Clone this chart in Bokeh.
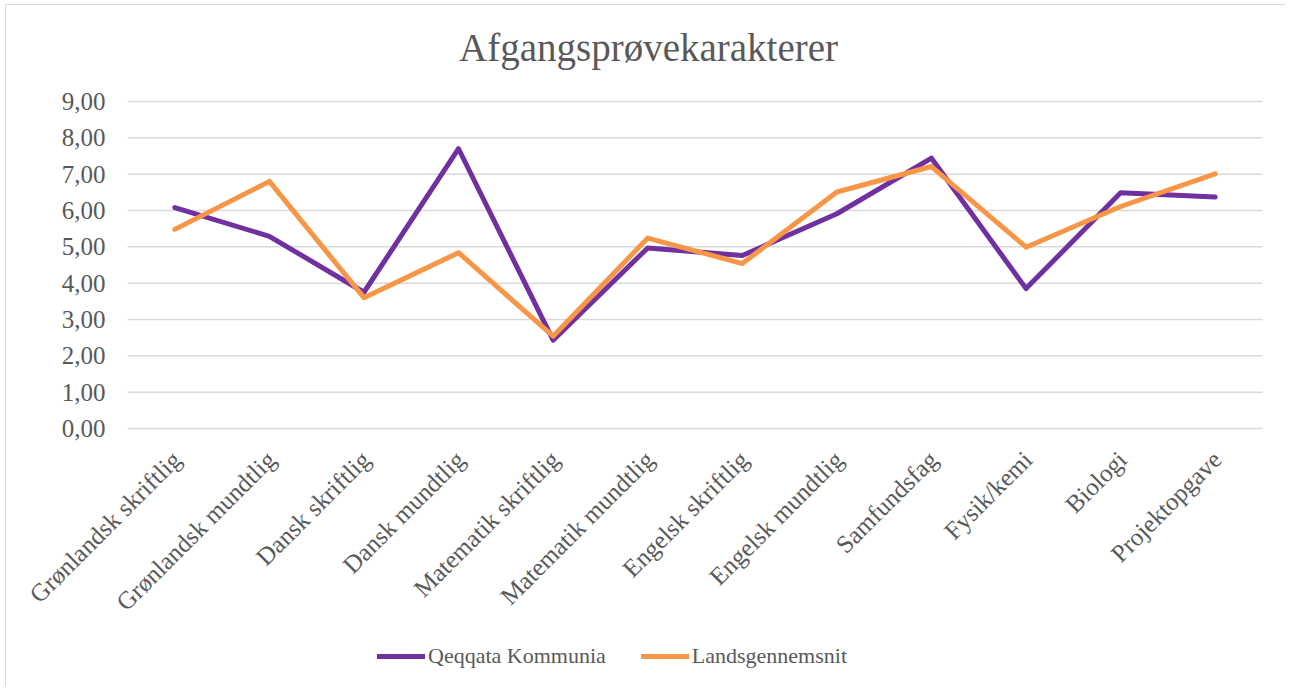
import math
from bokeh.plotting import figure
from bokeh.models import (Range1d, LinearAxis, FixedTicker, CustomJSTickFormatter,
                          Legend, LegendItem, Label, ColumnDataSource)
from bokeh.embed import file_html
from bokeh.resources import INLINE

categories = ["Grønlandsk skriftlig", "Grønlandsk mundtlig", "Dansk skriftlig", "Dansk mundtlig",
              "Matematik skriftlig", "Matematik mundtlig", "Engelsk skriftlig", "Engelsk mundtlig",
              "Samfundsfag", "Fysik/kemi", "Biologi", "Projektopgave"]
qeqqata = [6.08, 5.29, 3.75, 7.70, 2.43, 4.97, 4.76, 5.91, 7.44, 3.85, 6.49, 6.37]
lands = [5.48, 6.80, 3.60, 4.84, 2.54, 5.24, 4.54, 6.51, 7.21, 4.99, 6.11, 7.01]
series_names = ["Qeqqata Kommunia", "Landsgennemsnit"]
title_text = "Afgangsprøvekarakterer"
y_ticks = [0, 1, 2, 3, 4, 5, 6, 7, 8, 9]

FONT = "Liberation Serif"
TXT = "#595959"
GRID = "#d9d9d9"
PURPLE = "#7030A0"
ORANGE = "#F79646"

n = len(categories)
pos = [i + 0.5 for i in range(n)]  # category slot centres
src = ColumnDataSource(dict(x=pos, q=qeqqata, l=lands))
gsrc = ColumnDataSource(dict(x0=[0] * len(y_ticks), x1=[n] * len(y_ticks), y=y_ticks))

# layout (pixels): the frame spans the whole figure; the plot area is a box inside it
W, H = 1280, 682
PL, PR = 121, 1256            # plot-area left/right offsets from the frame's left edge
PT, PB = 96, 423              # plot-area top (value 9) / bottom (value 0) offsets from the frame's top
ppx = (PR - PL) / n
ppy = (PB - PT) / (y_ticks[-1] - y_ticks[0])
x_start, x_end = -PL / ppx, n + (W - PR) / ppx
y_end = y_ticks[-1] + PT / ppy
y_start = y_ticks[0] - (H - PB) / ppy

p = figure(width=W, height=H, x_range=Range1d(x_start, x_end), y_range=Range1d(y_start, y_end),
           output_backend="svg", toolbar_location=None,
           min_border_left=0, min_border_right=0, min_border_top=0, min_border_bottom=0)
p.title.visible = False
p.outline_line_color = None
p.background_fill_color = "white"
p.border_fill_color = "white"
p.styles = {"border-left": "1px solid #d9d9d9", "border-top": "1px solid #d9d9d9",
            "margin-left": "5px", "margin-top": "4px"}

# horizontal gridlines across the plot area only
p.xgrid.visible = False
p.ygrid.visible = False
p.segment(x0="x0", x1="x1", y0="y", y1="y", source=gsrc, line_color=GRID, line_width=1.5)

r1 = p.line("x", "q", source=src, line_color=PURPLE, line_width=5, line_cap="round", line_join="round")
r2 = p.line("x", "l", source=src, line_color=ORANGE, line_width=5, line_cap="round", line_join="round")

# value axis, fixed at the plot-area's left edge
ya = p.yaxis[0]
ya.fixed_location = 0
ya.ticker = FixedTicker(ticks=y_ticks)
ya.formatter = CustomJSTickFormatter(code="return tick.toFixed(2).replace('.', ',');")
ya.axis_line_color = None
ya.major_tick_line_color = None
ya.minor_tick_line_color = None
ya.major_tick_out = 0
ya.major_label_standoff = 22
ya.major_label_text_font = FONT
ya.major_label_text_font_size = "25px"
ya.major_label_text_color = TXT

# category axis: fixed at value 0, labels rotated 45 degrees
p.xaxis.visible = False
p.extra_x_ranges = {"lab": Range1d(start=x_start - 0.02, end=x_end - 0.02)}
xa = LinearAxis(x_range_name="lab", fixed_location=0,
                ticker=FixedTicker(ticks=pos),
                formatter=CustomJSTickFormatter(args=dict(labels=categories),
                    code="const i = Math.round(tick - 0.5); return (i >= 0 && i < labels.length) ? labels[i] : '';"))
xa.axis_line_color = None
xa.major_tick_line_color = None
xa.minor_tick_line_color = None
xa.major_tick_out = 0
xa.major_label_orientation = math.pi / 4
xa.major_label_standoff = 27
xa.major_label_text_font = FONT
xa.major_label_text_font_size = "25px"
xa.major_label_text_color = TXT
p.add_layout(xa, "below")

# title (screen offsets from the frame's bottom-left corner)
p.add_layout(Label(x=642, y=H - 42, x_units="screen", y_units="screen", text=title_text,
                   text_font=FONT, text_font_size="39px", text_color=TXT,
                   text_align="center", text_baseline="middle"))

legend = Legend(items=[LegendItem(label=series_names[0], renderers=[r1]),
                       LegendItem(label=series_names[1], renderers=[r2])],
                orientation="horizontal", location=(371, 18))
legend.glyph_width = 48
legend.glyph_height = 24
legend.label_standoff = 3
legend.spacing = 35
legend.padding = 0
legend.margin = 0
legend.border_line_color = None
legend.background_fill_alpha = 0
legend.label_text_font = FONT
legend.label_text_font_size = "22px"
legend.label_text_color = TXT
p.add_layout(legend, "center")

open("out.html", "w").write(file_html(p, INLINE))
